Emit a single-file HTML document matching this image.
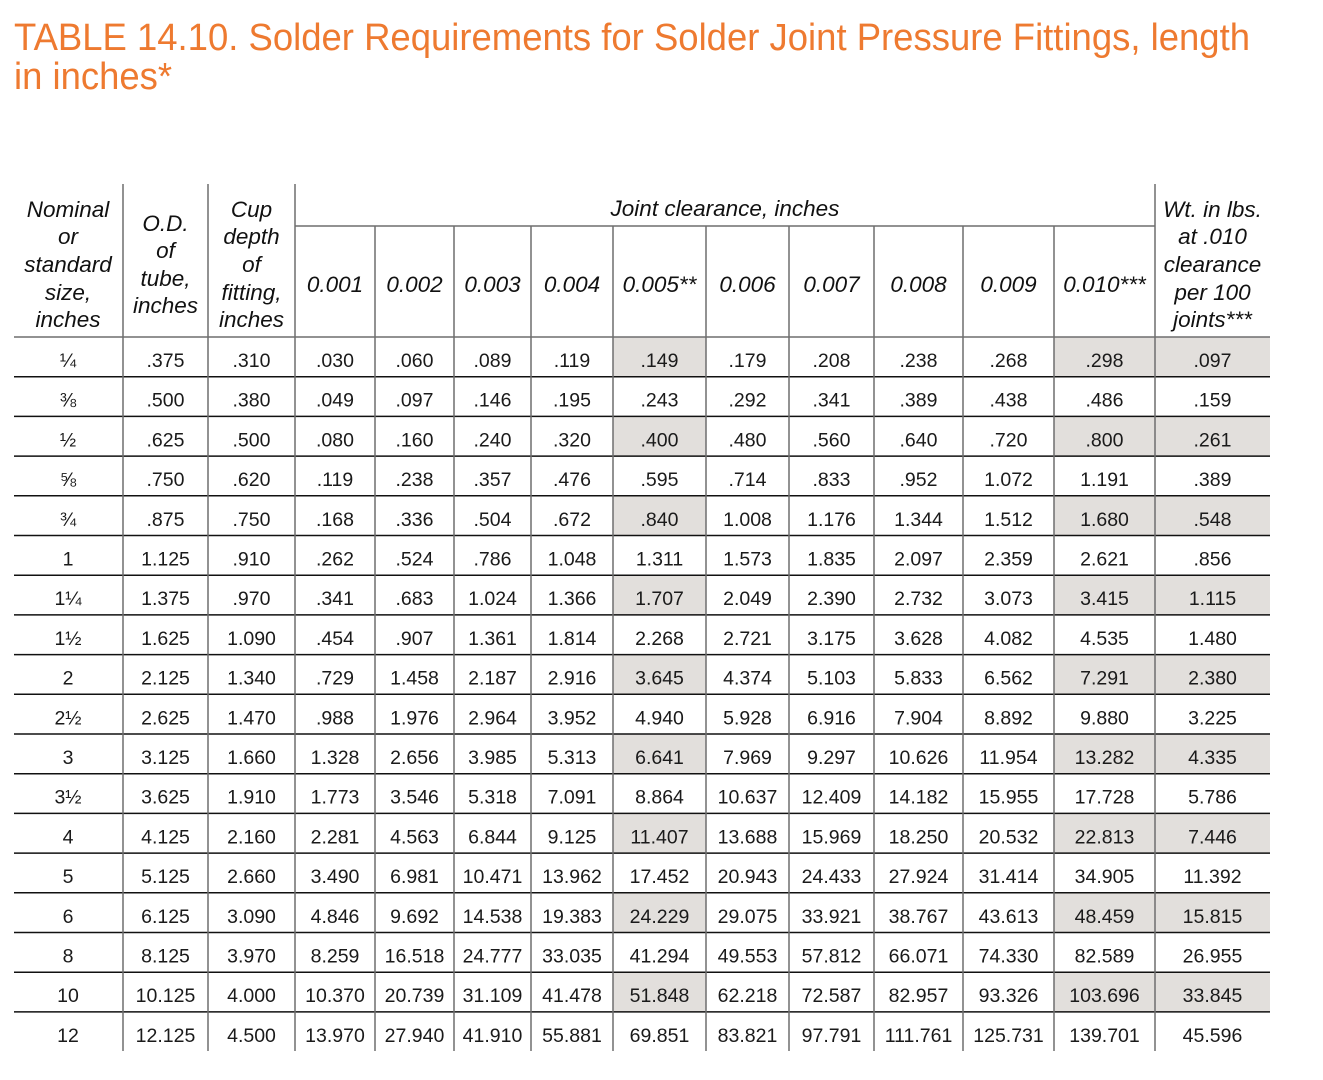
<!DOCTYPE html>
<html><head><meta charset="utf-8"><style>
html,body{margin:0;padding:0;background:#fff;}
svg{display:block;}
.t{font-family:"Liberation Sans",sans-serif;font-size:38px;fill:#ee7a30;}
.h{font-family:"Liberation Sans",sans-serif;font-size:22.5px;font-style:italic;fill:#111;text-anchor:middle;}
.d{font-family:"Liberation Sans",sans-serif;font-size:19.5px;fill:#1a1a1a;text-anchor:middle;}
</style></head><body>
<svg width="1323" height="1080" xmlns="http://www.w3.org/2000/svg">
<text class="t" x="14" y="50" textLength="1236" lengthAdjust="spacingAndGlyphs">TABLE 14.10. Solder Requirements for Solder Joint Pressure Fittings, length</text>
<text class="t" x="14" y="89" textLength="158" lengthAdjust="spacingAndGlyphs">in inches*</text>

<g fill="#e2dfdc">
<rect x="613" y="337" width="93" height="39.7"/><rect x="1054" y="337" width="216" height="39.7"/>
<rect x="613" y="416.4" width="93" height="39.7"/><rect x="1054" y="416.4" width="216" height="39.7"/>
<rect x="613" y="495.8" width="93" height="39.7"/><rect x="1054" y="495.8" width="216" height="39.7"/>
<rect x="613" y="575.2" width="93" height="39.7"/><rect x="1054" y="575.2" width="216" height="39.7"/>
<rect x="613" y="654.6" width="93" height="39.7"/><rect x="1054" y="654.6" width="216" height="39.7"/>
<rect x="613" y="734" width="93" height="39.7"/><rect x="1054" y="734" width="216" height="39.7"/>
<rect x="613" y="813.4" width="93" height="39.7"/><rect x="1054" y="813.4" width="216" height="39.7"/>
<rect x="613" y="892.8" width="93" height="39.7"/><rect x="1054" y="892.8" width="216" height="39.7"/>
<rect x="613" y="972.2" width="93" height="39.7"/><rect x="1054" y="972.2" width="216" height="39.7"/>
</g>

<g stroke="#111" stroke-width="1.5">
<line x1="14" x2="1270" y1="376.7" y2="376.7"/><line x1="14" x2="1270" y1="416.4" y2="416.4"/>
<line x1="14" x2="1270" y1="456.1" y2="456.1"/><line x1="14" x2="1270" y1="495.8" y2="495.8"/>
<line x1="14" x2="1270" y1="535.5" y2="535.5"/><line x1="14" x2="1270" y1="575.2" y2="575.2"/>
<line x1="14" x2="1270" y1="614.9" y2="614.9"/><line x1="14" x2="1270" y1="654.6" y2="654.6"/>
<line x1="14" x2="1270" y1="694.3" y2="694.3"/><line x1="14" x2="1270" y1="734" y2="734"/>
<line x1="14" x2="1270" y1="773.7" y2="773.7"/><line x1="14" x2="1270" y1="813.4" y2="813.4"/>
<line x1="14" x2="1270" y1="853.1" y2="853.1"/><line x1="14" x2="1270" y1="892.8" y2="892.8"/>
<line x1="14" x2="1270" y1="932.5" y2="932.5"/><line x1="14" x2="1270" y1="972.2" y2="972.2"/>
<line x1="14" x2="1270" y1="1011.9" y2="1011.9"/>
</g>
<g stroke="#6e6e6e" stroke-width="1.5">
<line x1="14" x2="1270" y1="337" y2="337"/>
<line x1="295" x2="1155" y1="226" y2="226"/>
<line x1="123" x2="123" y1="184" y2="1051"/><line x1="208" x2="208" y1="184" y2="1051"/>
<line x1="295" x2="295" y1="184" y2="1051"/><line x1="1155" x2="1155" y1="184" y2="1051"/>
<line x1="375" x2="375" y1="226" y2="1051"/><line x1="454" x2="454" y1="226" y2="1051"/>
<line x1="531" x2="531" y1="226" y2="1051"/><line x1="613" x2="613" y1="226" y2="1051"/>
<line x1="706" x2="706" y1="226" y2="1051"/><line x1="789" x2="789" y1="226" y2="1051"/>
<line x1="874" x2="874" y1="226" y2="1051"/><line x1="963" x2="963" y1="226" y2="1051"/>
<line x1="1054" x2="1054" y1="226" y2="1051"/>
</g>

<g class="h">
<text x="68" y="217">Nominal</text><text x="68" y="244">or</text><text x="68" y="272">standard</text><text x="68" y="300">size,</text><text x="68" y="327">inches</text>
<text x="165.5" y="231">O.D.</text><text x="165.5" y="258">of</text><text x="165.5" y="286">tube,</text><text x="165.5" y="313">inches</text>
<text x="251.5" y="217">Cup</text><text x="251.5" y="244">depth</text><text x="251.5" y="272">of</text><text x="251.5" y="300">fitting,</text><text x="251.5" y="327">inches</text>
<text x="725" y="216">Joint clearance, inches</text>
<text x="335" y="292">0.001</text><text x="414.5" y="292">0.002</text><text x="492.5" y="292">0.003</text><text x="572" y="292">0.004</text><text x="659.5" y="292">0.005**</text><text x="747.5" y="292">0.006</text><text x="831.5" y="292">0.007</text><text x="918.5" y="292">0.008</text><text x="1008.5" y="292">0.009</text><text x="1104.5" y="292">0.010***</text>
<text x="1212.5" y="217">Wt. in lbs.</text><text x="1212.5" y="244">at .010</text><text x="1212.5" y="272">clearance</text><text x="1212.5" y="300">per 100</text><text x="1212.5" y="327">joints***</text>
</g>

<g class="d">
<g transform="translate(0,367)"><text x="68">¼</text><text x="165.5">.375</text><text x="251.5">.310</text><text x="335">.030</text><text x="414.5">.060</text><text x="492.5">.089</text><text x="572">.119</text><text x="659.5">.149</text><text x="747.5">.179</text><text x="831.5">.208</text><text x="918.5">.238</text><text x="1008.5">.268</text><text x="1104.5">.298</text><text x="1212.5">.097</text></g>
<g transform="translate(0,406.7)"><text x="68">⅜</text><text x="165.5">.500</text><text x="251.5">.380</text><text x="335">.049</text><text x="414.5">.097</text><text x="492.5">.146</text><text x="572">.195</text><text x="659.5">.243</text><text x="747.5">.292</text><text x="831.5">.341</text><text x="918.5">.389</text><text x="1008.5">.438</text><text x="1104.5">.486</text><text x="1212.5">.159</text></g>
<g transform="translate(0,446.4)"><text x="68">½</text><text x="165.5">.625</text><text x="251.5">.500</text><text x="335">.080</text><text x="414.5">.160</text><text x="492.5">.240</text><text x="572">.320</text><text x="659.5">.400</text><text x="747.5">.480</text><text x="831.5">.560</text><text x="918.5">.640</text><text x="1008.5">.720</text><text x="1104.5">.800</text><text x="1212.5">.261</text></g>
<g transform="translate(0,486.1)"><text x="68">⅝</text><text x="165.5">.750</text><text x="251.5">.620</text><text x="335">.119</text><text x="414.5">.238</text><text x="492.5">.357</text><text x="572">.476</text><text x="659.5">.595</text><text x="747.5">.714</text><text x="831.5">.833</text><text x="918.5">.952</text><text x="1008.5">1.072</text><text x="1104.5">1.191</text><text x="1212.5">.389</text></g>
<g transform="translate(0,525.8)"><text x="68">¾</text><text x="165.5">.875</text><text x="251.5">.750</text><text x="335">.168</text><text x="414.5">.336</text><text x="492.5">.504</text><text x="572">.672</text><text x="659.5">.840</text><text x="747.5">1.008</text><text x="831.5">1.176</text><text x="918.5">1.344</text><text x="1008.5">1.512</text><text x="1104.5">1.680</text><text x="1212.5">.548</text></g>
<g transform="translate(0,565.5)"><text x="68">1</text><text x="165.5">1.125</text><text x="251.5">.910</text><text x="335">.262</text><text x="414.5">.524</text><text x="492.5">.786</text><text x="572">1.048</text><text x="659.5">1.311</text><text x="747.5">1.573</text><text x="831.5">1.835</text><text x="918.5">2.097</text><text x="1008.5">2.359</text><text x="1104.5">2.621</text><text x="1212.5">.856</text></g>
<g transform="translate(0,605.2)"><text x="68">1¼</text><text x="165.5">1.375</text><text x="251.5">.970</text><text x="335">.341</text><text x="414.5">.683</text><text x="492.5">1.024</text><text x="572">1.366</text><text x="659.5">1.707</text><text x="747.5">2.049</text><text x="831.5">2.390</text><text x="918.5">2.732</text><text x="1008.5">3.073</text><text x="1104.5">3.415</text><text x="1212.5">1.115</text></g>
<g transform="translate(0,644.9)"><text x="68">1½</text><text x="165.5">1.625</text><text x="251.5">1.090</text><text x="335">.454</text><text x="414.5">.907</text><text x="492.5">1.361</text><text x="572">1.814</text><text x="659.5">2.268</text><text x="747.5">2.721</text><text x="831.5">3.175</text><text x="918.5">3.628</text><text x="1008.5">4.082</text><text x="1104.5">4.535</text><text x="1212.5">1.480</text></g>
<g transform="translate(0,684.6)"><text x="68">2</text><text x="165.5">2.125</text><text x="251.5">1.340</text><text x="335">.729</text><text x="414.5">1.458</text><text x="492.5">2.187</text><text x="572">2.916</text><text x="659.5">3.645</text><text x="747.5">4.374</text><text x="831.5">5.103</text><text x="918.5">5.833</text><text x="1008.5">6.562</text><text x="1104.5">7.291</text><text x="1212.5">2.380</text></g>
<g transform="translate(0,724.3)"><text x="68">2½</text><text x="165.5">2.625</text><text x="251.5">1.470</text><text x="335">.988</text><text x="414.5">1.976</text><text x="492.5">2.964</text><text x="572">3.952</text><text x="659.5">4.940</text><text x="747.5">5.928</text><text x="831.5">6.916</text><text x="918.5">7.904</text><text x="1008.5">8.892</text><text x="1104.5">9.880</text><text x="1212.5">3.225</text></g>
<g transform="translate(0,764)"><text x="68">3</text><text x="165.5">3.125</text><text x="251.5">1.660</text><text x="335">1.328</text><text x="414.5">2.656</text><text x="492.5">3.985</text><text x="572">5.313</text><text x="659.5">6.641</text><text x="747.5">7.969</text><text x="831.5">9.297</text><text x="918.5">10.626</text><text x="1008.5">11.954</text><text x="1104.5">13.282</text><text x="1212.5">4.335</text></g>
<g transform="translate(0,803.7)"><text x="68">3½</text><text x="165.5">3.625</text><text x="251.5">1.910</text><text x="335">1.773</text><text x="414.5">3.546</text><text x="492.5">5.318</text><text x="572">7.091</text><text x="659.5">8.864</text><text x="747.5">10.637</text><text x="831.5">12.409</text><text x="918.5">14.182</text><text x="1008.5">15.955</text><text x="1104.5">17.728</text><text x="1212.5">5.786</text></g>
<g transform="translate(0,843.4)"><text x="68">4</text><text x="165.5">4.125</text><text x="251.5">2.160</text><text x="335">2.281</text><text x="414.5">4.563</text><text x="492.5">6.844</text><text x="572">9.125</text><text x="659.5">11.407</text><text x="747.5">13.688</text><text x="831.5">15.969</text><text x="918.5">18.250</text><text x="1008.5">20.532</text><text x="1104.5">22.813</text><text x="1212.5">7.446</text></g>
<g transform="translate(0,883.1)"><text x="68">5</text><text x="165.5">5.125</text><text x="251.5">2.660</text><text x="335">3.490</text><text x="414.5">6.981</text><text x="492.5">10.471</text><text x="572">13.962</text><text x="659.5">17.452</text><text x="747.5">20.943</text><text x="831.5">24.433</text><text x="918.5">27.924</text><text x="1008.5">31.414</text><text x="1104.5">34.905</text><text x="1212.5">11.392</text></g>
<g transform="translate(0,922.8)"><text x="68">6</text><text x="165.5">6.125</text><text x="251.5">3.090</text><text x="335">4.846</text><text x="414.5">9.692</text><text x="492.5">14.538</text><text x="572">19.383</text><text x="659.5">24.229</text><text x="747.5">29.075</text><text x="831.5">33.921</text><text x="918.5">38.767</text><text x="1008.5">43.613</text><text x="1104.5">48.459</text><text x="1212.5">15.815</text></g>
<g transform="translate(0,962.5)"><text x="68">8</text><text x="165.5">8.125</text><text x="251.5">3.970</text><text x="335">8.259</text><text x="414.5">16.518</text><text x="492.5">24.777</text><text x="572">33.035</text><text x="659.5">41.294</text><text x="747.5">49.553</text><text x="831.5">57.812</text><text x="918.5">66.071</text><text x="1008.5">74.330</text><text x="1104.5">82.589</text><text x="1212.5">26.955</text></g>
<g transform="translate(0,1002.2)"><text x="68">10</text><text x="165.5">10.125</text><text x="251.5">4.000</text><text x="335">10.370</text><text x="414.5">20.739</text><text x="492.5">31.109</text><text x="572">41.478</text><text x="659.5">51.848</text><text x="747.5">62.218</text><text x="831.5">72.587</text><text x="918.5">82.957</text><text x="1008.5">93.326</text><text x="1104.5">103.696</text><text x="1212.5">33.845</text></g>
<g transform="translate(0,1041.9)"><text x="68">12</text><text x="165.5">12.125</text><text x="251.5">4.500</text><text x="335">13.970</text><text x="414.5">27.940</text><text x="492.5">41.910</text><text x="572">55.881</text><text x="659.5">69.851</text><text x="747.5">83.821</text><text x="831.5">97.791</text><text x="918.5">111.761</text><text x="1008.5">125.731</text><text x="1104.5">139.701</text><text x="1212.5">45.596</text></g>
</g>
</svg>
</body></html>
